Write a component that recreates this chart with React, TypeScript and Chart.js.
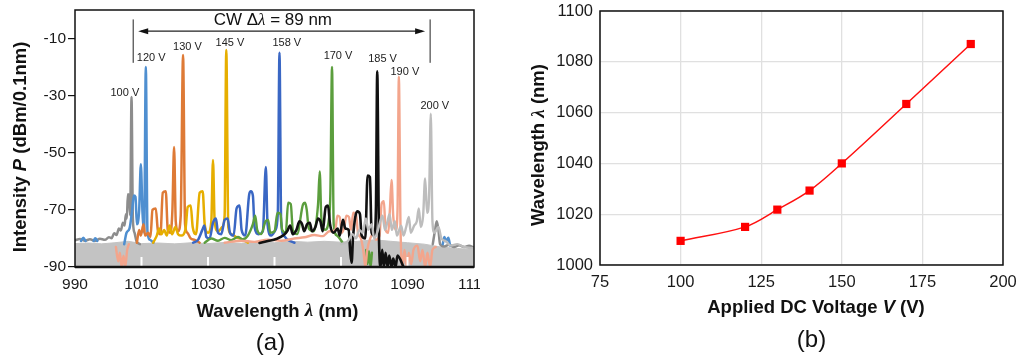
import React, { useEffect, useRef } from 'react';
import { Chart, registerables } from 'chart.js';

Chart.register(...registerables);

const FONT = '"Liberation Sans", Arial, Helvetica, sans-serif';
const SERIF = '"Liberation Serif", "DejaVu Serif", serif';

// ---------- Panel (a): spectra ----------
const wlTicks = [990, 1010, 1030, 1050, 1070, 1090, 1110];
const wlInnerTicks = [1010, 1030, 1050, 1070, 1090];
const dbTicks = [-90, -70, -50, -30, -10];

const voltLabels = ['100 V', '120 V', '130 V', '145 V', '158 V', '170 V', '185 V', '190 V', '200 V'];
const voltLabelX = [1005.0, 1012.9, 1023.8, 1036.6, 1053.7, 1069.1, 1082.5, 1089.2, 1098.2];
const voltLabelY = [-28.9, -16.7, -12.8, -11.4, -11.4, -16.0, -17.0, -21.8, -33.5];

const cwFrom = 1007.5;
const cwTo = 1096.8;
const cwArrowY = -7.4;
const cwBarTop = -3.3;
const cwBarBottom = -18.5;
const cwTextX = 1049.5;
const cwTextY = -3.7;

const trace100V = [
  [990, -80.6], [991.5, -80.2], [993, -80.8], [994.5, -80.3], [996, -80.9], [997.5, -80.1], [999, -80.5],
  [1000.2, -79.6], [1001, -79.9], [1001.8, -78.2], [1002.5, -78.8], [1003.2, -76.5], [1003.8, -77.2],
  [1004.4, -74.5], [1004.9, -75.5], [1005.3, -71.5], [1005.6, -73], [1005.9, -64.5], [1006.3, -64.8],
  [1006.6, -72], [1007.0, -30.5], [1007.4, -73], [1007.9, -78], [1008.5, -81], [1009.5, -82],
  [1010, null],
  [1097.6, -82], [1098.3, -77], [1098.8, -74], [1099.3, -77], [1099.8, -82], [1101, -82.8], [1102.5, -82.2],
  [1104, -83], [1105.5, -82.4], [1107, -83], [1108.5, -82.6], [1110, -83.2],
];
const trace120V = [
  [991.8, -80.9], [992.5, -79.8], [993.2, -80.9], [993.5, null],
  [995.6, -80.9], [996.1, -79.9], [996.7, -80.9], [997, null],
  [1004.8, -82], [1005.5, -78], [1006.4, -76.5], [1007.2, -70], [1007.7, -65], [1008.2, -65.5], [1008.6, -75],
  [1009.3, -70], [1009.8, -54], [1010.3, -71], [1010.8, -78], [1011.3, -20], [1011.8, -78], [1012.6, -80.5],
  [1013.6, -81.5], [1014, null],
  [1100.6, -82], [1101.1, -79.5], [1101.6, -81], [1102.3, -79.8], [1102.8, -82.5],
];
const trace130V = [
  [1008.6, -81.5], [1009.3, -77], [1009.8, -79], [1010.6, -75], [1011.1, -79], [1012, -78], [1012.7, -79.5],
  [1013.3, -70], [1014.3, -69.5], [1014.9, -77], [1015.7, -78.5], [1016.4, -64], [1017.3, -63.5], [1017.9, -77],
  [1018.7, -78], [1019.3, -70], [1019.8, -48], [1020.3, -74], [1021.0, -77.5], [1021.8, -72], [1022.5, -15.8],
  [1023.1, -75], [1023.8, -78], [1024.8, -80], [1026, -80.5], [1027.5, -81.5],
];
const trace145V = [
  [1013.5, -81.5], [1014.6, -79], [1015.3, -76.5], [1016, -78.5], [1016.8, -77], [1017.6, -79], [1018.4, -75.5],
  [1019.2, -78.5], [1020.2, -76], [1021, -78.5], [1022, -79], [1023.2, -77], [1023.9, -69], [1024.8, -68.5],
  [1025.4, -76], [1026.4, -78.5], [1027.5, -64], [1028.4, -63.5], [1029, -75], [1030, -78], [1031.0, -74],
  [1031.5, -52.5], [1032.0, -74], [1033, -77.5], [1034.3, -76], [1035.0, -72], [1035.5, -14], [1036.1, -76],
  [1037, -78.5], [1038.5, -79.5], [1040.5, -80.5], [1042, -81.5],
];
const trace158V = [
  [1025.5, -81.5], [1027, -80.5], [1028.3, -77], [1028.9, -75.5], [1029.5, -79.5], [1030.5, -80], [1031.5, -74.5],
  [1032.4, -73], [1033, -78], [1034, -78.5], [1035, -73.5], [1035.9, -73], [1036.6, -78], [1037.7, -79],
  [1038.6, -69.5], [1039.5, -68.5], [1040.1, -77], [1041.2, -79], [1042.4, -64.5], [1042.9, -63.5], [1043.5, -65],
  [1044, -76], [1045.2, -78.5], [1046.5, -77.5], [1047.4, -55], [1047.9, -75], [1049, -79], [1050.3, -77],
  [1051.0, -71], [1051.5, -15], [1052.0, -74], [1052.8, -79], [1054, -80.5], [1056, -81.5],
];
const trace170V = [
  [1029, -81.5], [1031, -80], [1033, -80.8], [1035, -79.8], [1037, -80.6], [1039, -79.5], [1040.5, -80.3],
  [1042, -79], [1043.5, -75], [1044.2, -72], [1044.8, -77], [1046, -78.5], [1047.3, -74], [1048.1, -73.5],
  [1048.7, -78], [1050, -77.5], [1050.9, -71], [1051.8, -71.5], [1052.3, -77], [1053.4, -78], [1054.1, -67.5],
  [1054.9, -68], [1055.5, -77], [1056.8, -78.5], [1058.6, -68], [1059.2, -67.5], [1059.7, -70], [1060.3, -76.5],
  [1061.8, -77.5], [1063.1, -68], [1063.6, -56.5], [1064.1, -73], [1065.2, -77], [1066.4, -73], [1066.8, -64],
  [1067.3, -19.9], [1067.8, -75], [1068.8, -79], [1070.5, -81.5],
  [1071, null],
  [1077.6, -84], [1078.0, -89], [1078.4, -84.5], [1078.9, -90], [1079.3, -85],
];
const trace185V = [
  [1045.5, -81.6], [1048, -80.9], [1050.5, -80.2], [1052.8, -78.8], [1053.8, -77.5], [1054.7, -75.5], [1055.5, -78.5],
  [1056.6, -77], [1057.5, -74], [1058.3, -75], [1058.9, -77.5], [1059.8, -75], [1060.6, -74.5], [1061.3, -77.5],
  [1062.3, -76], [1063.1, -73], [1063.8, -74], [1064.5, -77.5], [1065.4, -69], [1066.1, -68.5], [1066.7, -75],
  [1067.8, -78], [1069, -76.5], [1069.6, -79], [1070.6, -73.5], [1071.3, -76.5], [1072.3, -77], [1072.8, -85],
  [1073.2, -88.5], [1073.6, -80], [1074.3, -72.5], [1074.9, -70.5], [1075.7, -71.5], [1076.2, -79], [1077.3, -80],
  [1078.0, -58], [1078.7, -58.5], [1079.2, -78], [1080.0, -79], [1080.5, -70], [1080.9, -21.5], [1081.4, -78],
  [1081.9, -90], [1082.4, -84], [1082.9, -90], [1083.4, -85], [1084, -90], [1084.5, -86], [1085.2, -90],
  [1085.7, -87], [1086.4, -90], [1087, -86], [1088.8, -90],
];
const trace190V = [
  [1002.3, -83], [1003, -88], [1003.5, -85], [1004, -90], [1004.6, -86], [1005.1, -90], [1005.7, -84], [1006.2, -82],
  [1006.5, null],
  [1035, -81.5], [1040, -80.8], [1044, -81.2], [1048, -80.4], [1052, -80.8], [1056, -80], [1059, -79.6],
  [1062, -78.8], [1064.5, -79.2], [1066.5, -77.5], [1068.3, -77], [1068.9, -72], [1069.6, -72.5], [1070.2, -78],
  [1071, -76], [1071.6, -72], [1072.4, -72.5], [1073, -77], [1073.7, -71], [1074.5, -71.5], [1075.1, -78],
  [1076, -80], [1076.8, -85], [1077.3, -90], [1077.9, -84], [1078.8, -80], [1079.7, -78.5], [1080.5, -80.5],
  [1081.6, -79], [1082.2, -68], [1082.9, -67], [1083.4, -77], [1084.2, -78], [1084.7, -70], [1085.2, -59.5],
  [1085.7, -72], [1086.5, -77], [1087.0, -70], [1087.4, -23.4], [1087.9, -76], [1088.5, -90], [1089.1, -84],
  [1089.8, -90], [1090.4, -85], [1091.1, -89], [1091.8, -84], [1093, -82.5], [1093.8, -88], [1094.5, -84],
  [1095.3, -90], [1096, -85], [1096.8, -90], [1097.5, -84], [1098.5, -83],
];
const trace200V = [
  [1070, -82], [1072, -81], [1073.5, -78.5], [1074.5, -80], [1075.5, -77], [1076.5, -78], [1077.5, -73],
  [1078.2, -77], [1079.2, -75], [1080, -80], [1081, -77.5], [1081.8, -74], [1082.5, -72], [1083.2, -77],
  [1084, -74], [1084.6, -71.5], [1085.3, -77], [1086.2, -74], [1086.8, -79], [1088.1, -75.5], [1088.8, -79],
  [1089.6, -76], [1090.4, -72.5], [1091.0, -78], [1092.0, -75.5], [1092.8, -74], [1093.4, -69.5], [1094.0, -76],
  [1094.7, -72], [1095.3, -59], [1095.9, -71], [1096.5, -65], [1097.0, -36.3], [1097.5, -74], [1098.1, -78],
  [1099.3, -76], [1100.2, -80], [1101.5, -81], [1103, -82.5], [1105, -82], [1107, -83], [1110, -83.5],
];
const noiseFloor = [
  [990, -81.8], [994, -81.6], [998, -81.9], [1002, -81.5], [1006, -81], [1010, -81.8], [1015, -81.6],
  [1020, -81.9], [1025, -81.5], [1030, -81.8], [1035, -81.4], [1040, -81.7], [1045, -81.2], [1050, -81.5],
  [1055, -81], [1060, -81.3], [1065, -81], [1070, -81.3], [1075, -81], [1080, -80.5], [1085, -81],
  [1090, -81.5], [1095, -82], [1100, -83], [1105, -83.5], [1110, -84],
];

// drawing order: first = on top
const spectra = [
  { name: '200 V', pts: trace200V, color: '#bdbdbd', width: 2.4 },
  { name: '185 V', pts: trace185V, color: '#111111', width: 2.6 },
  { name: '190 V', pts: trace190V, color: '#f3a58c', width: 2.4 },
  { name: '170 V', pts: trace170V, color: '#5b9e3d', width: 2.4 },
  { name: '158 V', pts: trace158V, color: '#3a67c4', width: 2.5 },
  { name: '145 V', pts: trace145V, color: '#e6ae00', width: 2.5 },
  { name: '130 V', pts: trace130V, color: '#de7a36', width: 2.5 },
  { name: '120 V', pts: trace120V, color: '#4f8fd0', width: 2.5 },
  { name: '100 V', pts: trace100V, color: '#8d8d8d', width: 2.5 },
];

// ---------- Panel (b): tuning curve ----------
const appliedVoltage = [100, 120, 130, 140, 150, 170, 190];
const peakWavelength = [1009.5, 1015, 1021.8, 1029.3, 1040, 1063.4, 1087];

const toXY = (pts: any[]) => pts.map(([x, y]) => ({ x, y }));

function richText(ctx: CanvasRenderingContext2D, parts: [string, string][], x: number, y: number) {
  let total = 0;
  const widths = parts.map(([t, f]) => {
    ctx.font = f;
    const w = ctx.measureText(t).width;
    total += w;
    return w;
  });
  let cx = x - total / 2;
  ctx.textAlign = 'left';
  ctx.textBaseline = 'middle';
  parts.forEach(([t, f], i) => {
    ctx.font = f;
    ctx.fillText(t, cx, y);
    cx += widths[i];
  });
}

function rotatedRich(ctx: CanvasRenderingContext2D, parts: [string, string][], x: number, y: number) {
  ctx.save();
  ctx.translate(x, y);
  ctx.rotate(-Math.PI / 2);
  richText(ctx, parts, 0, 0);
  ctx.restore();
}

const pin = (w: number | null, h: number | null) => (s: any) => {
  if (w != null) s.width = w;
  if (h != null) s.height = h;
  s.paddingLeft = 0;
  s.paddingRight = 0;
  s.paddingTop = 0;
  s.paddingBottom = 0;
};

const B18 = `bold 18.5px ${FONT}`;
const BI18 = `bold italic 18.5px ${FONT}`;
const LAMBDA = `bold italic 19px ${SERIF}`;

const panelAPlugin = {
  id: 'panelA',
  afterDatasetsDraw(chart: any) {
    const { ctx, chartArea: ca, scales } = chart;
    const x = scales.x;
    const y = scales.y;
    ctx.save();
    // inner white tick marks
    ctx.strokeStyle = '#ffffff';
    ctx.lineWidth = 2;
    wlInnerTicks.forEach((v) => {
      const px = x.getPixelForValue(v);
      ctx.beginPath();
      ctx.moveTo(px, ca.bottom);
      ctx.lineTo(px, ca.bottom - 10);
      ctx.stroke();
    });
    // frame
    ctx.strokeStyle = '#111';
    ctx.lineWidth = 1.5;
    ctx.strokeRect(ca.left, ca.top, ca.right - ca.left, ca.bottom - ca.top);
    ctx.lineWidth = 2.5;
    ctx.beginPath();
    ctx.moveTo(ca.left, ca.bottom);
    ctx.lineTo(ca.right, ca.bottom);
    ctx.stroke();

    // CW range arrow
    const x1 = x.getPixelForValue(cwFrom);
    const x2 = x.getPixelForValue(cwTo);
    const ay = y.getPixelForValue(cwArrowY);
    ctx.strokeStyle = '#222';
    ctx.fillStyle = '#111';
    ctx.lineWidth = 1;
    [x1, x2].forEach((bx) => {
      ctx.beginPath();
      ctx.moveTo(bx, y.getPixelForValue(cwBarTop));
      ctx.lineTo(bx, y.getPixelForValue(cwBarBottom));
      ctx.stroke();
    });
    ctx.lineWidth = 1.2;
    ctx.beginPath();
    ctx.moveTo(x1 + 8, ay);
    ctx.lineTo(x2 - 8, ay);
    ctx.stroke();
    ctx.beginPath();
    ctx.moveTo(x1 + 5, ay);
    ctx.lineTo(x1 + 15, ay - 3);
    ctx.lineTo(x1 + 15, ay + 3);
    ctx.closePath();
    ctx.fill();
    ctx.beginPath();
    ctx.moveTo(x2 - 5, ay);
    ctx.lineTo(x2 - 15, ay - 3);
    ctx.lineTo(x2 - 15, ay + 3);
    ctx.closePath();
    ctx.fill();

    ctx.fillStyle = '#111';
    richText(
      ctx,
      [
        ['CW \u0394', `17px ${FONT}`],
        ['\u03bb', `italic 17px ${SERIF}`],
        [' = 89 nm', `17px ${FONT}`],
      ],
      x.getPixelForValue(cwTextX),
      y.getPixelForValue(cwTextY)
    );

    // voltage labels
    ctx.fillStyle = '#222';
    ctx.font = `11px ${FONT}`;
    ctx.textAlign = 'center';
    ctx.textBaseline = 'middle';
    voltLabels.forEach((t, i) => {
      ctx.fillText(t, x.getPixelForValue(voltLabelX[i]), y.getPixelForValue(voltLabelY[i]));
    });
    ctx.restore();
  },
  afterDraw(chart: any) {
    const { ctx } = chart;
    ctx.save();
    ctx.fillStyle = '#111';
    rotatedRich(ctx, [['Intensity ', B18], ['P', BI18], [' (dBm/0.1nm)', B18]], 21, 147);
    richText(ctx, [['Wavelength ', B18], ['\u03bb', LAMBDA], [' (nm)', B18]], 277.5, 311.5);
    richText(ctx, [['(a)', `24px ${FONT}`]], 270.5, 343);
    ctx.restore();
  },
};

const panelBPlugin = {
  id: 'panelB',
  afterDatasetsDraw(chart: any) {
    const { ctx, chartArea: ca } = chart;
    ctx.save();
    ctx.strokeStyle = '#111';
    ctx.lineWidth = 1.5;
    ctx.strokeRect(ca.left, ca.top, ca.right - ca.left, ca.bottom - ca.top);
    ctx.restore();
  },
  afterDraw(chart: any) {
    const { ctx } = chart;
    ctx.save();
    ctx.fillStyle = '#111';
    rotatedRich(ctx, [['Wavelength ', B18], ['\u03bb', LAMBDA], [' (nm)', B18]], 39, 145);
    richText(ctx, [['Applied DC Voltage ', B18], ['V', BI18], [' (V)', B18]], 316, 307.5);
    richText(ctx, [['(b)', `24px ${FONT}`]], 311.5, 340);
    ctx.restore();
  },
};

export default function App() {
  const refA = useRef<HTMLCanvasElement>(null);
  const refB = useRef<HTMLCanvasElement>(null);

  useEffect(() => {
    document.body.style.margin = '0';
    const tickFontA = { family: FONT, size: 15.5 };
    const chartA = new Chart(refA.current as HTMLCanvasElement, {
      type: 'line',
      data: {
        datasets: [
          ...spectra.map((s) => ({
            label: s.name,
            data: toXY(s.pts),
            borderColor: s.color,
            backgroundColor: s.color,
            borderWidth: s.width,
            pointRadius: 0,
            cubicInterpolationMode: 'monotone',
            borderJoinStyle: 'round',
            borderCapStyle: 'round',
            fill: false,
          })),
          {
            label: 'floor',
            data: toXY(noiseFloor),
            borderColor: '#c3c3c3',
            backgroundColor: '#c3c3c3',
            borderWidth: 1,
            pointRadius: 0,
            tension: 0,
            fill: 'start',
          },
        ],
      } as any,
      options: {
        animation: false,
        responsive: false,
        maintainAspectRatio: false,
        layout: { padding: { top: 10, right: 6, left: 0, bottom: 0 } },
        plugins: { legend: { display: false }, tooltip: { enabled: false } },
        scales: {
          x: {
            type: 'linear',
            min: 990,
            max: 1110,
            afterBuildTicks: (s: any) => {
              s.ticks = wlTicks.map((v) => ({ value: v }));
            },
            afterFit: pin(null, 91),
            grid: { display: false, drawTicks: false },
            border: { display: false },
            ticks: {
              font: tickFontA,
              color: '#1a1a1a',
              padding: 8,
              maxRotation: 0,
              autoSkip: false,
              callback: (v: any) => String(v),
            },
          },
          y: {
            type: 'linear',
            min: -90,
            max: 0,
            afterBuildTicks: (s: any) => {
              s.ticks = dbTicks.map((v) => ({ value: v }));
            },
            afterFit: pin(75, null),
            grid: { drawOnChartArea: false, drawTicks: true, tickLength: 7, color: '#111', lineWidth: 1.2 },
            border: { display: false },
            ticks: {
              font: tickFontA,
              color: '#1a1a1a',
              padding: 2,
              autoSkip: false,
              callback: (v: any) => String(v),
            },
          },
        },
      } as any,
      plugins: [panelAPlugin],
    });

    const tickFontB = { family: FONT, size: 16.5 };
    const chartB = new Chart(refB.current as HTMLCanvasElement, {
      type: 'line',
      data: {
        datasets: [
          {
            label: 'Wavelength',
            data: appliedVoltage.map((v, i) => ({ x: v, y: peakWavelength[i] })),
            borderColor: '#ff1010',
            backgroundColor: '#ff0000',
            borderWidth: 1.5,
            pointStyle: 'rect',
            pointRadius: 5.8,
            pointBorderWidth: 0,
            tension: 0.35,
          },
        ],
      } as any,
      options: {
        animation: false,
        responsive: false,
        maintainAspectRatio: false,
        layout: { padding: { top: 11, right: 16, left: 0, bottom: 0 } },
        plugins: { legend: { display: false }, tooltip: { enabled: false } },
        scales: {
          x: {
            type: 'linear',
            min: 75,
            max: 200,
            ticks: {
              stepSize: 25,
              font: tickFontB,
              color: '#1a1a1a',
              padding: 8,
              maxRotation: 0,
              autoSkip: false,
              callback: (v: any) => String(v),
            },
            afterFit: pin(null, 93),
            grid: { color: '#e0e0e0', lineWidth: 1.3, drawTicks: false },
            border: { display: false },
          },
          y: {
            type: 'linear',
            min: 1000,
            max: 1100,
            ticks: {
              stepSize: 20,
              font: tickFontB,
              color: '#1a1a1a',
              padding: 7,
              autoSkip: false,
              callback: (v: any) => String(v),
            },
            afterFit: pin(100, null),
            grid: { color: '#e0e0e0', lineWidth: 1.3, drawTicks: false },
            border: { display: false },
          },
        },
      } as any,
      plugins: [panelBPlugin],
    });

    return () => {
      chartA.destroy();
      chartB.destroy();
    };
  }, []);

  return (
    <div style={{ position: 'relative', width: 1019, height: 358, background: '#ffffff', overflow: 'hidden' }}>
      <canvas
        ref={refA}
        width={480}
        height={358}
        style={{ position: 'absolute', left: 0, top: 0, width: 480, height: 358 }}
      />
      <canvas
        ref={refB}
        width={519}
        height={358}
        style={{ position: 'absolute', left: 500, top: 0, width: 519, height: 358 }}
      />
    </div>
  );
}
